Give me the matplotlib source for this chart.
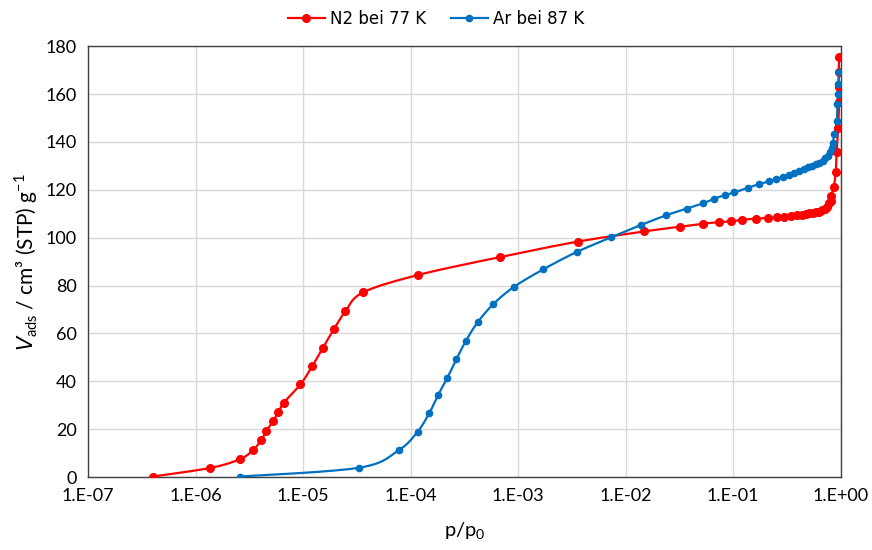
import numpy as np
import matplotlib
matplotlib.use("Agg")
import matplotlib.pyplot as plt
from matplotlib.ticker import FixedLocator, FuncFormatter, NullLocator

# N2 at 77 K (adsorption branch)
n2_p = [4.0e-7, 1.37e-6, 2.6e-6, 3.45e-6, 4.06e-6, 4.56e-6, 5.26e-6, 5.9e-6,
        6.6e-6, 9.46e-6, 1.22e-5, 1.53e-5, 1.93e-5, 2.48e-5, 3.6e-5, 1.17e-4,
        6.8e-4, 3.64e-3, 1.49e-2, 3.2e-2, 5.2e-2, 7.4e-2, 9.6e-2, 0.12, 0.164,
        0.21, 0.255, 0.30, 0.348, 0.39, 0.435, 0.474, 0.51, 0.55, 0.587, 0.627,
        0.667, 0.71, 0.74, 0.78, 0.817, 0.82, 0.865, 0.90, 0.92, 0.95, 0.968,
        0.962, 0.96, 0.972]
n2_v = [0.2, 3.8, 7.5, 11.4, 15.3, 19.2, 23.4, 27.1, 31.0, 38.7, 46.4, 54.0,
        61.7, 69.3, 77.1, 84.4, 91.9, 98.4, 102.6, 104.6, 105.8, 106.5, 106.8,
        107.5, 107.9, 108.2, 108.5, 108.7, 109.1, 109.4, 109.6, 109.9, 110.1,
        110.3, 110.6, 110.8, 111.4, 111.9, 112.9, 114.3, 115.4, 117.6, 121.3,
        127.4, 135.8, 145.7, 156.8, 163.1, 169.2, 175.6]

# Ar at 87 K (adsorption branch)
ar_p = [2.6e-6, 3.34e-5, 7.8e-5, 1.16e-4, 1.49e-4, 1.8e-4, 2.2e-4, 2.67e-4,
        3.26e-4, 4.2e-4, 5.9e-4, 9.2e-4, 1.72e-3, 3.5e-3, 7.3e-3, 1.39e-2,
        2.4e-2, 3.7e-2, 5.2e-2, 6.7e-2, 8.4e-2, 0.103, 0.138, 0.176, 0.215,
        0.253, 0.29, 0.33, 0.37, 0.41, 0.454, 0.50, 0.54, 0.587, 0.63, 0.68,
        0.72, 0.76, 0.80, 0.83, 0.845, 0.875, 0.92, 0.935, 0.945, 0.955, 0.97]
ar_v = [0.2, 3.9, 11.3, 18.9, 26.6, 34.2, 41.5, 49.2, 56.8, 64.6, 72.3, 79.5,
        86.8, 94.0, 100.1, 105.3, 109.4, 112.1, 114.3, 116.3, 117.8, 118.9,
        120.9, 122.4, 123.5, 124.6, 125.4, 126.3, 127.1, 127.9, 128.6, 129.4,
        130.0, 130.6, 131.4, 132.1, 133.1, 134.2, 135.8, 137.4, 139.5, 143.3,
        148.6, 155.7, 160.0, 164.0, 169.2]

x_ticks = [1e-7, 1e-6, 1e-5, 1e-4, 1e-3, 1e-2, 1e-1, 1e0]
x_labels = ["1.E-07", "1.E-06", "1.E-05", "1.E-04", "1.E-03", "1.E-02", "1.E-01", "1.E+00"]
y_ticks = list(range(0, 181, 20))


def smooth(p, v, n=16):
    # Excel-like smoothed line: Catmull-Rom in screen-ish space (log x)
    u = (np.log10(p) + 7) / 7 * 751
    w = np.asarray(v) / 180 * 431
    pts = np.column_stack([u, w])
    pts = np.vstack([pts[0], pts, pts[-1]])
    out = []
    for i in range(1, len(pts) - 2):
        p0, p1, p2, p3 = pts[i - 1], pts[i], pts[i + 1], pts[i + 2]
        c1 = p1 + (p2 - p0) / 6
        c2 = p2 - (p3 - p1) / 6
        t = np.linspace(0, 1, n, endpoint=False)[:, None]
        seg = ((1 - t) ** 3) * p1 + 3 * ((1 - t) ** 2) * t * c1 + 3 * (1 - t) * t ** 2 * c2 + t ** 3 * p2
        out.append(seg)
    out.append(pts[-2][None, :])
    out = np.vstack(out)
    return 10 ** (out[:, 0] / 751 * 7 - 7), out[:, 1] / 431 * 180


plt.rcParams['font.family'] = ['Lato', 'DejaVu Sans']
plt.rcParams['mathtext.fontset'] = 'custom'
plt.rcParams['mathtext.rm'] = 'Lato'
plt.rcParams['mathtext.it'] = 'DejaVu Sans:italic'

fig = plt.figure(figsize=(8.72, 5.5), dpi=100)
ax = fig.add_axes([0.101, 0.1327, 0.863, 0.7833])

red = "#FF0000"
blue = "#0070C0"
sx, sy = smooth(n2_p, n2_v)
ax.plot(sx, sy, color=red, lw=1.6, zorder=3)
ax.plot(n2_p, n2_v, ls="none", color=red, marker="o", ms=5.5, zorder=4)
sx, sy = smooth(ar_p, ar_v)
ax.plot(sx, sy, color=blue, lw=1.6, zorder=3)
ax.plot(ar_p, ar_v, ls="none", color=blue, marker="o", ms=4.5, zorder=4)

# legend handles
ax.plot([], [], color=red, lw=1.6, marker="o", ms=5.5, label="N2 bei 77 K")
ax.plot([], [], color=blue, lw=1.6, marker="o", ms=4.5, label="Ar bei 87 K")

ax.set_xscale("log")
ax.set_xlim(1e-7, 1.0)
ax.set_ylim(0, 180)
ax.xaxis.set_major_locator(FixedLocator(x_ticks))
ax.xaxis.set_major_formatter(FuncFormatter(lambda v, pos: x_labels[pos] if pos is not None and pos < len(x_labels) else ""))
ax.xaxis.set_minor_locator(NullLocator())
ax.set_yticks(y_ticks)

ax.grid(True, color="#D9D9D9", lw=1)
ax.set_axisbelow(True)
ax.tick_params(length=0, labelsize=13, pad=8, colors="#000000")
for s in ax.spines.values():
    s.set_color("#404040")
    s.set_linewidth(1)

ax.set_xlabel("p/p$_0$", fontsize=14.5, labelpad=12)
ax.set_ylabel("$V_\\mathrm{ads}$ / cm³ (STP) g$^{-1}$", fontsize=15, labelpad=4)

fig.legend(loc="upper center", bbox_to_anchor=(0.5, 1.01), ncol=2,
           frameon=False, prop={'family': 'DejaVu Sans', 'size': 12},
           handlelength=2.2, columnspacing=1.5, handletextpad=0.3)

fig.savefig("out.png", dpi=100)
